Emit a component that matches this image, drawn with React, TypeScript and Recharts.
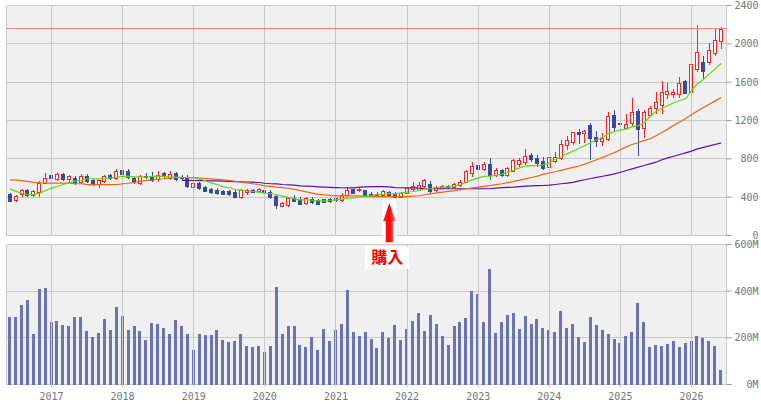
import React from 'react';
import {
  ComposedChart,
  Bar,
  Line,
  XAxis,
  YAxis,
  CartesianGrid,
  ReferenceLine,
  ReferenceDot,
} from 'recharts';

// monthly candles, June 2016 .. June 2026
const START_YEAR = 2016;
const START_MONTH = 6;

const YEARS = ['2017', '2018', '2019', '2020', '2021', '2022', '2023', '2024', '2025', '2026'];
const PRICE_TICKS = [0, 400, 800, 1200, 1600, 2000, 2400];
const VOLUME_TICKS = [0, 200, 400, 600];
const TARGET_PRICE = 2160;
const BUY_MONTH = '2021-10';
const BUY_PRICE = 340;
const BUY_LABEL = '購入';

const OPEN = [
  435, 375, 428, 475, 422, 455, 552, 628, 585, 640, 588, 595, 562, 622, 577, 537, 572, 628, 595, 688,
  670, 600, 552, 625, 615, 585, 648, 596, 650, 615, 602, 506, 552, 510, 490, 480, 462, 462, 455, 402,
  455, 475, 463, 480, 458, 410, 312, 315, 392, 382, 338, 382, 372, 378, 378, 388, 366, 418, 483, 474,
  470, 438, 420, 423, 450, 438, 402, 447, 488, 475, 512, 542, 472, 500, 520, 505, 524, 562, 652, 740,
  698, 750, 635, 680, 628, 677, 746, 767, 842, 812, 778, 720, 780, 810, 940, 976, 1084, 1074, 1153, 1032,
  986, 1012, 1258, 1170, 1122, 1178, 1302, 1122, 1262, 1330, 1360, 1476, 1476, 1476, 1608, 1498, 1742, 1808, 1811, 1908,
  2026,
];
const HIGH = [
  445, 420, 490, 488, 472, 565, 655, 640, 648, 655, 636, 620, 638, 645, 585, 584, 630, 640, 690, 740,
  690, 612, 636, 650, 665, 668, 662, 677, 662, 630, 630, 560, 558, 518, 500, 496, 480, 470, 470, 488,
  490, 490, 500, 492, 480, 423, 348, 406, 425, 405, 402, 405, 380, 385, 388, 395, 445, 500, 490, 494,
  480, 450, 458, 480, 465, 450, 450, 525, 555, 556, 590, 565, 520, 530, 528, 548, 574, 685, 765, 770,
  765, 805, 700, 690, 712, 800, 805, 900, 865, 835, 820, 835, 870, 1000, 1040, 1085, 1115, 1105, 1170, 1090,
  1070, 1290, 1310, 1175, 1265, 1430, 1315, 1310, 1350, 1500, 1615, 1590, 1525, 1650, 1620, 1830, 2200, 1870, 2010, 2160,
  2180,
];
const LOW = [
  355, 362, 415, 410, 412, 415, 545, 580, 578, 580, 560, 540, 550, 555, 530, 506, 560, 585, 588, 630,
  600, 548, 540, 595, 565, 570, 600, 585, 575, 575, 505, 500, 488, 460, 442, 435, 428, 425, 400, 395,
  435, 450, 458, 440, 393, 292, 308, 306, 355, 325, 333, 342, 325, 346, 348, 365, 360, 410, 440, 462,
  420, 415, 410, 418, 415, 400, 398, 440, 480, 470, 505, 455, 465, 495, 500, 498, 512, 555, 625, 668,
  688, 585, 625, 618, 620, 668, 730, 750, 780, 730, 697, 705, 765, 800, 905, 955, 960, 975, 800, 930,
  945, 1000, 1095, 1100, 1110, 1150, 835, 1025, 1245, 1275, 1280, 1440, 1445, 1445, 1485, 1490, 1720, 1640, 1790, 1880,
  1955,
];
const CLOSE = [
  360, 415, 475, 418, 465, 550, 600, 596, 640, 586, 625, 556, 626, 565, 536, 578, 622, 596, 675, 637,
  610, 555, 622, 606, 576, 636, 627, 646, 590, 596, 512, 552, 492, 468, 458, 447, 432, 432, 405, 472,
  478, 455, 486, 453, 402, 315, 342, 396, 360, 333, 396, 350, 332, 352, 355, 370, 424, 472, 447, 482,
  427, 420, 437, 468, 420, 405, 445, 497, 520, 528, 576, 464, 506, 520, 508, 534, 562, 670, 728, 698,
  750, 628, 680, 628, 700, 785, 785, 834, 802, 753, 705, 822, 820, 955, 1000, 1080, 1055, 1095, 1017, 986,
  1018, 1244, 1132, 1160, 1163, 1292, 1115, 1285, 1335, 1396, 1500, 1508, 1500, 1590, 1492, 1790, 1918, 1713, 1940, 2040,
  2155,
];
// volume in millions
const VOLUME = [
  290, 290, 342, 363, 218, 410, 414, 269, 273, 256, 252, 290, 290, 231, 205, 222, 282, 235, 333, 295,
  235, 252, 231, 192, 265, 260, 243, 218, 278, 252, 218, 149, 218, 214, 214, 235, 192, 184, 188, 218,
  167, 162, 167, 141, 167, 418, 218, 252, 252, 171, 162, 205, 149, 239, 188, 235, 260, 406, 226, 209,
  226, 196, 158, 226, 201, 256, 192, 239, 273, 307, 231, 299, 260, 209, 171, 252, 269, 286, 401, 389,
  269, 495, 222, 269, 299, 307, 239, 295, 260, 282, 243, 235, 226, 316, 243, 260, 205, 184, 290, 256,
  235, 218, 196, 179, 209, 226, 350, 269, 162, 171, 167, 175, 188, 162, 179, 188, 209, 201, 188, 167,
  64,
];
const MA_SHORT = [
  487, 460, 438, 428, 427, 440, 470, 494, 511, 532, 550, 567, 574, 592, 592, 588, 595, 602, 609, 616,
  619, 612, 612, 610, 616, 619, 616, 609, 609, 605, 605, 602, 588, 571, 546, 532, 508, 498, 480, 473,
  462, 459, 452, 441, 438, 425, 410, 397, 383, 372, 372, 368, 362, 362, 365, 372, 379, 390, 393, 400,
  410, 413, 425, 431, 440, 435, 445, 452, 459, 470, 487, 490, 501, 504, 508, 515, 529, 556, 581, 602,
  616, 619, 626, 640, 661, 681, 706, 723, 730, 730, 737, 758, 793, 821, 852, 880, 911, 939, 967, 999,
  1026, 1061, 1085, 1099, 1113, 1134, 1145, 1176, 1242, 1294, 1328, 1357, 1385, 1409, 1426, 1513, 1583, 1628, 1687, 1740,
  1795,
];
const MA_MID = [
  580, 578, 572, 565, 555, 550, 548, 546, 546, 546, 546, 540, 540, 530, 530, 530, 530, 530, 530, 540,
  545, 555, 567, 575, 580, 587, 592, 600, 605, 606, 604, 601, 598, 595, 590, 585, 580, 574, 566, 558,
  550, 540, 530, 518, 512, 505, 500, 493, 482, 468, 456, 442, 430, 424, 418, 414, 414, 414, 414, 414,
  405, 405, 405, 405, 405, 405, 405, 405, 410, 415, 425, 435, 445, 452, 460, 468, 478, 488, 496, 504,
  512, 520, 530, 540, 552, 565, 578, 590, 605, 620, 638, 652, 665, 680, 695, 710, 725, 745, 770, 790,
  815, 840, 865, 895, 925, 950, 970, 990, 1010, 1040, 1075, 1110, 1150, 1185, 1220, 1260, 1300, 1335, 1370, 1405,
  1440,
];
const MA_LONG = [
  null, null, null, null, null, null, null, null, null, null, null, null, null, null, null, null, null, null, null, null,
  null, null, null, null, null, null, null, null, null, 575, 575, 574, 573, 572, 571, 570, 567, 565, 562, 560,
  558, 556, 553, 545, 540, 538, 532, 528, 525, 518, 515, 512, 508, 505, 502, 500, 498, 497, 497, 505,
  508, 510, 510, 510, 508, 500, 498, 497, 496, 495, 490, 488, 488, 488, 488, 488, 488, 488, 488, 488,
  488, 488, 495, 500, 502, 505, 510, 515, 518, 520, 522, 525, 532, 540, 546, 555, 570, 582, 595, 607,
  618, 630, 643, 660, 678, 696, 713, 730, 748, 765, 790, 810, 827, 845, 862, 880, 904, 920, 935, 950,
  967,
];

const MONTHS = OPEN.map((_, i) => {
  const m = START_MONTH - 1 + i;
  return `${START_YEAR + Math.floor(m / 12)}-${String((m % 12) + 1).padStart(2, '0')}`;
});

const data = MONTHS.map((month, i) => ({
  month,
  open: OPEN[i],
  high: HIGH[i],
  low: LOW[i],
  close: CLOSE[i],
  range: [LOW[i], HIGH[i]],
  volume: VOLUME[i],
  ma1: MA_SHORT[i],
  ma2: MA_MID[i],
  ma3: MA_LONG[i],
}));

const UP = '#ff2020';
const DOWN = '#3a4a9e';
const GRID = '#c8c8c8';
const PLOT_BG = '#f0f0f0';
const TEXT = '#777';
const MONO = "'DejaVu Sans Mono', monospace";
const X_PADDING = { left: 0.56, right: 2.39 };

const Candle = (props: any) => {
  const { x, y, width, height, payload } = props;
  const { open, close, high, low } = payload;
  const k = Math.floor(x + width / 2);
  const py = (v: number) => (high === low ? y : y + ((high - v) / (high - low)) * height);
  const up = close >= open;
  const color = up ? UP : DOWN;
  const top = Math.round(py(Math.max(open, close))) + 0.5;
  const bot = Math.round(py(Math.min(open, close))) + 0.5;
  return (
    <g shapeRendering="crispEdges">
      <line x1={k + 0.5} x2={k + 0.5} y1={Math.round(py(high))} y2={Math.round(py(low)) + 1} stroke={color} />
      <rect x={k - 1.5} y={top} width={3} height={Math.max(bot - top, 1)} fill={up ? '#fff' : color} stroke={color} />
    </g>
  );
};

const AxisTick = ({ x, y, payload, suffix = '' }: any) => (
  <text x={x + 25} y={y + 3.5} textAnchor="end" fontSize={10} fontFamily={MONO} fill={TEXT}>
    {payload.value}
    {suffix}
  </text>
);

const BuyMarker = ({ cx, cy }: any) => (
  <g>
    <defs>
      <linearGradient id="buyArrow" x1="0" x2="1" y1="0" y2="0">
        <stop offset="0" stopColor="#ff2a2a" />
        <stop offset="0.5" stopColor="#ff0000" />
        <stop offset="1" stopColor="#ff6a6a" />
      </linearGradient>
    </defs>
    <rect x={cx - 7} y={cy - 2.5} width={14} height={43} fill="#fff" />
    <polygon
      points={`${cx},${cy} ${cx + 6.2},${cy + 18.4} ${cx + 3.6},${cy + 18.4} ${cx + 3.6},${cy + 39.4} ${cx - 3.6},${cy + 39.4} ${cx - 3.6},${cy + 18.4} ${cx - 6.2},${cy + 18.4}`}
      fill="url(#buyArrow)"
    />
    <rect x={cx - 24.3} y={cy + 43.4} width={44} height={22.6} fill="#fff" />
    <text
      x={cx - 2.1}
      y={cy + 60.5}
      textAnchor="middle"
      fontSize={16}
      fontWeight="bold"
      fontFamily="'Noto Sans CJK JP', sans-serif"
      fill="#ff0000"
    >
      {BUY_LABEL}
    </text>
  </g>
);

const borders = ({ offset }: any) => [offset.left, offset.left + offset.width];

export default function App() {
  const yearTicks = YEARS.map((y) => `${y}-01`);
  return (
    <div style={{ position: 'absolute', left: 0, top: 0, width: 761, height: 404, background: '#fff' }}>
      {/* volume panel */}
      <div style={{ position: 'absolute', left: 0, top: 0 }}>
        <ComposedChart width={761} height={404} data={data} margin={{ top: 244.5, right: 0, bottom: 0, left: 6.5 }}>
          <CartesianGrid
            stroke={GRID}
            fill={PLOT_BG}
            verticalCoordinatesGenerator={borders}
            shapeRendering="crispEdges"
          />
          <XAxis
            dataKey="month"
            ticks={yearTicks}
            interval={0}
            tickFormatter={(v: string) => v.slice(0, 4)}
            padding={X_PADDING}
            axisLine={false}
            tickLine={{ stroke: GRID }}
            tickSize={3}
            tickMargin={5}
            height={19.5}
            tick={{ fontSize: 10, fill: TEXT, fontFamily: MONO }}
          />
          <YAxis
            orientation="right"
            domain={[0, 600]}
            ticks={VOLUME_TICKS}
            interval={0}
            width={34.5}
            axisLine={false}
            tickLine={{ stroke: '#999' }}
            tickSize={5}
            tick={<AxisTick suffix="M" />}
          />
          {yearTicks.map((t) => (
            <ReferenceLine key={t} x={t} stroke={GRID} shapeRendering="crispEdges" />
          ))}
          <Bar dataKey="volume" fill="#6b74b1" barSize={3} shapeRendering="crispEdges" isAnimationActive={false} />
        </ComposedChart>
      </div>
      {/* price panel */}
      <div style={{ position: 'absolute', left: 0, top: 0 }}>
        <ComposedChart width={761} height={275} data={data} margin={{ top: 5.5, right: 0, bottom: 39.5, left: 6.5 }}>
          <CartesianGrid
            stroke={GRID}
            fill={PLOT_BG}
            verticalCoordinatesGenerator={borders}
            shapeRendering="crispEdges"
          />
          <XAxis dataKey="month" hide padding={X_PADDING} />
          <YAxis
            orientation="right"
            domain={[0, 2400]}
            ticks={PRICE_TICKS}
            interval={0}
            width={34.5}
            axisLine={false}
            tickLine={{ stroke: '#999' }}
            tickSize={5}
            tick={<AxisTick />}
          />
          {yearTicks.map((t) => (
            <ReferenceLine key={t} x={t} stroke={GRID} shapeRendering="crispEdges" />
          ))}
          <ReferenceLine y={TARGET_PRICE} stroke="#ff8080" shapeRendering="crispEdges" />
          <Bar dataKey="range" shape={<Candle />} isAnimationActive={false} />
          <Line dataKey="ma3" stroke="#5512b8" strokeWidth={1.2} dot={false} type="linear" isAnimationActive={false} />
          <Line dataKey="ma2" stroke="#ee6411" strokeWidth={1.2} dot={false} type="linear" isAnimationActive={false} />
          <Line dataKey="ma1" stroke="#5fd80f" strokeWidth={1.2} dot={false} type="linear" isAnimationActive={false} />
          <ReferenceDot x={BUY_MONTH} y={BUY_PRICE} ifOverflow="visible" shape={<BuyMarker />} />
        </ComposedChart>
      </div>
    </div>
  );
}
